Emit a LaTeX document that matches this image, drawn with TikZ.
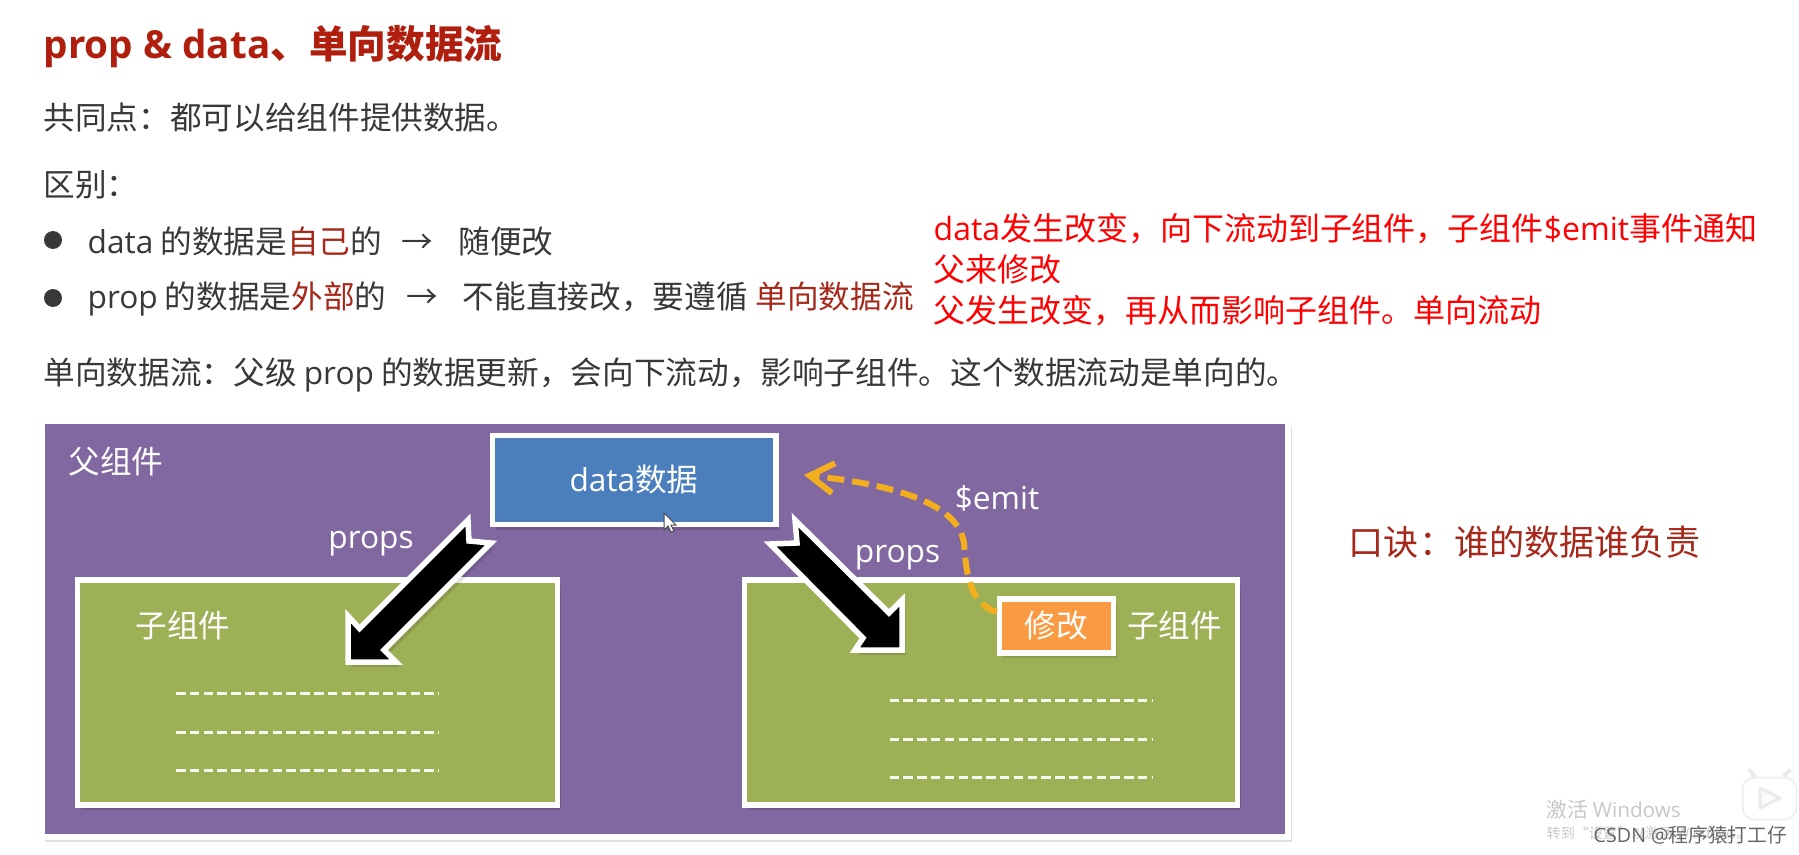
\documentclass[tikz,border=0pt]{standalone}
\usepackage{fontspec}
\setmainfont{Noto Sans CJK SC}
\newfontfamily\latfont{Open Sans}
\newcommand{\lat}[1]{{\latfont #1}}
\usetikzlibrary{arrows.meta, positioning, shadows}
\definecolor{titlered}{HTML}{B01E0E}
\definecolor{keyred}{HTML}{A5281B}
\definecolor{bodygray}{HTML}{383838}
\definecolor{panelpurple}{HTML}{8268A0}
\definecolor{childgreen}{HTML}{9DB055}
\definecolor{databLue}{HTML}{4A7EBD}
\definecolor{fixorange}{HTML}{FA9A42}
\definecolor{emitamber}{HTML}{F2AE1C}
\begin{document}
\begin{tikzpicture}[
  softshadow/.style={drop shadow={shadow xshift=.035cm, shadow yshift=-.05cm, fill=black, opacity=.12}},
  panelbox/.style={rectangle, draw=white, line width=.055cm, inner sep=0pt, softshadow},
  headline/.style={anchor=west, inner sep=0pt, font=\fontsize{11}{13}\selectfont\bfseries, text=titlered},
  bodyline/.style={anchor=west, inner sep=0pt, font=\fontsize{9}{11}\selectfont, text=bodygray},
  noteline/.style={anchor=west, inner sep=0pt, font=\fontsize{9.1}{11}\selectfont, text=red},
  tag/.style={inner sep=0pt, font=\fontsize{9}{11}\selectfont, text=white},
  fatarrow/.style={draw=white, fill=black, line width=.055cm, softshadow},
  emitarrow/.style={-{Straight Barb[length=.24cm, width=.3cm]}, draw=emitamber, line width=.06cm, dash pattern=on .17cm off .08cm},
  dashline/.style={draw=white!92!childgreen, line width=.03cm, dash pattern=on .095cm off .043cm},
  bullet/.style={circle, fill=bodygray, minimum size=.18cm, inner sep=0pt}
]
\useasboundingbox (0,0) rectangle (17.99,8.54);

% Text above the diagram
\node[headline] (title) at (.43,8.07) {\lat{prop \& data}、单向数据流};
\node[bodyline] (common) at (.43,7.36) {共同点：都可以给组件提供数据。};
\node[bodyline] (diff) at (.43,6.69) {区别：};
\node[bullet] (dot1) at (.53,6.14) {};
\node[bullet] (dot2) at (.53,5.56) {};
\node[bodyline] (dataline) at (.87,6.13)
  {\lat{data} 的数据是\textcolor{keyred}{自己}的\hspace{.2cm}→\hspace{.25cm}随便改};
\node[bodyline] (propline) at (.87,5.55)
  {\lat{prop} 的数据是\textcolor{keyred}{外部}的\hspace{.2cm}→\hspace{.25cm}不能直接改，要遵循\hspace{.08cm}\textcolor{keyred}{单向数据流}};
\node[bodyline] (flowline) at (.43,4.79)
  {单向数据流：父级 \lat{prop} 的数据更新，会向下流动，影响子组件。这个数据流动是单向的。};

% Red note
\node[noteline] (notea) at (9.33,6.25) {\lat{data}发生改变，向下流动到子组件，子组件\lat{\$emit}事件通知};
\node[noteline] (noteb) at (9.33,5.85) {父来修改};
\node[noteline] (notec) at (9.33,5.43) {父发生改变，再从而影响子组件。单向流动};

% Parent panel
\node[panelbox, fill=panelpurple, minimum width=12.46cm, minimum height=4.16cm] (parent) at (6.65,2.25) {};
\node[tag] (parentlabel) at (1.16,3.92) {父组件};

% Child panels
\node[panelbox, fill=childgreen, minimum width=4.8cm, minimum height=2.25cm] (childa) at (3.175,1.615) {};
\node[panelbox, fill=childgreen, minimum width=4.93cm, minimum height=2.25cm] (childb) at (9.91,1.615) {};
\node[tag] (childalabel) at (1.83,2.29) {子组件};
\node[tag] (childblabel) at (11.745,2.29) {子组件};
\foreach \ly in {1.61,1.22,.84} \draw[dashline] (1.76,\ly) -- (4.385,\ly);
\foreach \ly in {1.54,1.15,.77} \draw[dashline] (8.895,\ly) -- (11.52,\ly);

% Data box
\node[panelbox, fill=databLue, minimum width=2.835cm, minimum height=.89cm, font=\fontsize{9}{11}\selectfont, text=white] (data) at (6.34,3.74) {\lat{data}数据};

% Props arrows
\coordinate (lefttip) at (3.48,1.92);
\coordinate (righttip) at (9.02,2.04);
\draw[fatarrow] (lefttip) -- ++(0,.46) -- ++(.115,-.125) -- ++(1.085,1.085) -- ++(.01,-.21) -- ++(.22,-.02) -- ++(-1.07,-1.07) -- ++(.12,-.12) -- cycle;
\draw[fatarrow] (righttip) -- ++(0,.5) -- ++(-.13,-.13) -- ++(-.94,.93) -- ++(.02,-.23) -- ++(-.27,-.01) -- ++(.93,-.94) -- ++(-.08,-.12) -- cycle;
\node[tag] (propsa) at (3.71,3.1) {\lat{props}};
\node[tag] (propsb) at (8.975,2.96) {\lat{props}};

% Emit arrow
\node[panelbox, fill=fixorange, minimum width=1.14cm, minimum height=.54cm, font=\fontsize{9}{11}\selectfont, text=white] (fix) at (10.565,2.28) {修改};
\coordinate (emitend) at (8.04,3.79);
\draw[emitarrow] ([yshift=.14cm]fix.west) .. controls (9.7,2.5) and (9.66,2.8) .. (9.64,3.11) .. controls (9.6,3.35) and (9.35,3.65) .. (emitend);
\node[tag] (emitlabel) at (9.97,3.56) {\lat{\$emit}};

% Mouse pointer
\draw[draw=black!70, fill=white, line width=.01cm] (6.64,3.41) -- ++(0,-.17) -- ++(.04,.04) -- ++(.03,-.06) -- ++(.03,.01) -- ++(-.03,.06) -- ++(.05,0) -- cycle;

% Rhyme
\node[bodyline, font=\fontsize{10}{12}\selectfont, text=keyred] (rhyme) at (13.48,3.12) {口诀：谁的数据谁负责};

% Overlays in the corner
\node[bodyline, font=\fontsize{5.9}{7}\selectfont, text=black!22] (winmark) at (15.46,.44) {激活 \lat{Windows}};
\node[bodyline, font=\fontsize{4}{5}\selectfont, text=black!22] (winhint) at (15.46,.21) {转到“设置”以激活 \lat{Windows}。};
\node[bodyline, font=\fontsize{5.6}{7}\selectfont, text=black!60] (csdn) at (15.93,.19) {\lat{CSDN @}程序猿打工仔};
\node[rectangle, rounded corners=.12cm, draw=black!6, fill=white, line width=.02cm, minimum width=.54cm, minimum height=.42cm, inner sep=0pt] (play) at (17.695,.555) {};
\draw[black!8, line width=.03cm, fill=black!2, line join=round] (17.6,.66) -- ++(0,-.2) -- ++(.2,.1) -- cycle;
\draw[black!8, line width=.04cm] (play.north) ++(-.14,.0) -- ++(-.07,.07);
\draw[black!8, line width=.04cm] (play.north) ++(.14,.0) -- ++(.07,.07);

\end{tikzpicture}
\end{document}
